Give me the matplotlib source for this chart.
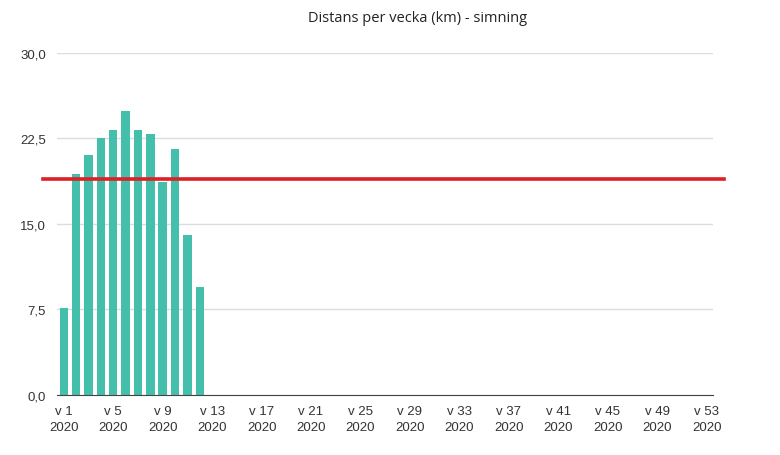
import numpy as np
import matplotlib.pyplot as plt
from matplotlib.transforms import blended_transform_factory

weeks = np.arange(1, 54)
distance = np.zeros(53)
distance[:12] = [7.6, 19.4, 21.0, 22.5, 23.2, 24.9, 23.2, 22.9, 18.7, 21.6, 14.0, 9.5]
target = 18.9
tick_weeks = np.arange(1, 54, 4)
tick_labels = [f"v {w}\n2020" for w in tick_weeks]
y_ticks = [0, 7.5, 15, 22.5, 30]

fig = plt.figure(figsize=(7.8, 4.56), dpi=100)
ax = fig.add_axes([0.073, 0.132, 0.841, 0.750])

ax.bar(weeks, distance, width=0.68, color="#43bfab", zorder=2)

# target line, goes a bit outside the plot area
tr = blended_transform_factory(ax.transAxes, ax.transData)
ax.plot([-0.021, 1.017], [target, target], color="#dd1f26", lw=2.6,
        transform=tr, clip_on=False, zorder=3)

ax.set_xlim(0.45, 53.5)
ax.set_ylim(0, 30)
ax.set_yticks(y_ticks)
ax.set_yticklabels([f"{v:.1f}".replace(".", ",") for v in y_ticks])
ax.set_xticks(tick_weeks)
ax.set_xticklabels(tick_labels, linespacing=1.45)
ax.grid(axis="y", color="#dcdcdc", lw=1, zorder=0)
for s in ["top", "right", "left"]:
    ax.spines[s].set_visible(False)
ax.spines["bottom"].set_color("#444444")
ax.spines["bottom"].set_zorder(4)
ax.tick_params(length=0, labelsize=9.5, colors="#333333", labelfontfamily="Liberation Sans")
ax.tick_params(axis="x", pad=7)
ax.tick_params(axis="y", pad=8)

fig.text(0.535, 0.96, "Distans per vecka (km) - simning", ha="center", va="center",
         fontsize=10.5, color="#222222", family="Open Sans")

plt.savefig("out.png", dpi=100)
